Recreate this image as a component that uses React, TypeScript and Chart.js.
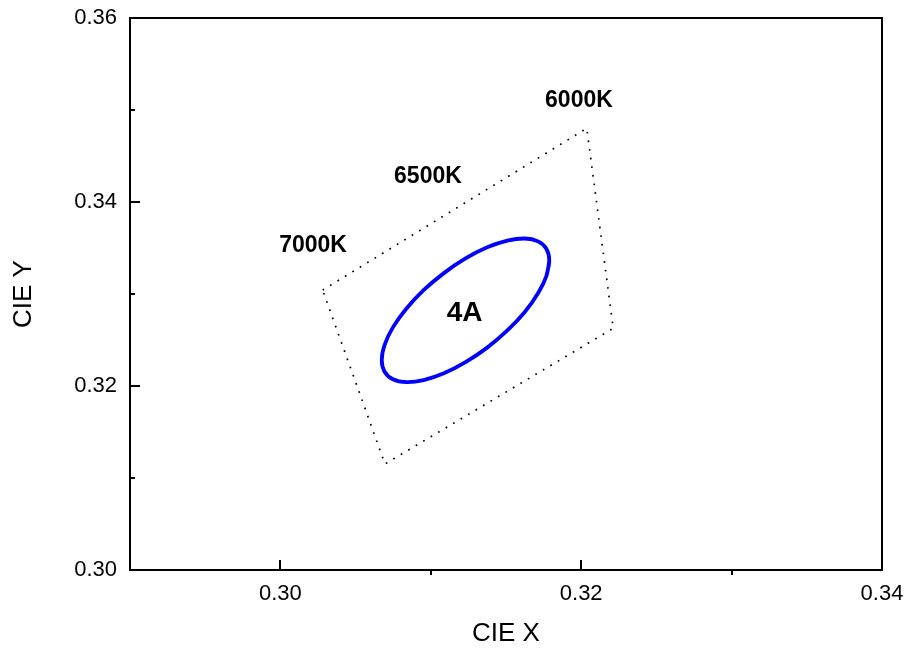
import React, { useEffect, useRef } from "react";
import { Chart, registerables } from "chart.js";

Chart.register(...registerables);

// Axis ticks
const xTicks = [0.30, 0.32, 0.34];
const xMinorTicks = [0.31, 0.33];
const yTicks = [0.30, 0.32, 0.34, 0.36];
const yMinorTicks = [0.31, 0.33, 0.35];

// Measured chromaticity ellipse (CIE x, CIE y), read around the outline
const ellipseX = [0.31788, 0.31769, 0.31713, 0.31625, 0.31509, 0.31375, 0.31231, 0.31087, 0.30952,
  0.30837, 0.30748, 0.30693, 0.30674, 0.30693, 0.30748, 0.30837, 0.30952, 0.31087, 0.31231, 0.31375,
  0.31509, 0.31625, 0.31713, 0.31769, 0.31788, 0.31769];
const ellipseY = [0.33362, 0.33198, 0.33008, 0.32805, 0.32604, 0.32417, 0.32259, 0.32138, 0.32064,
  0.32042, 0.32073, 0.32155, 0.32283, 0.32447, 0.32637, 0.32839, 0.33041, 0.33227, 0.33386, 0.33507,
  0.33580, 0.33603, 0.33572, 0.33490, 0.33362, 0.33198];

// CCT boundary quadrilateral
const boundaryX = [0.30281, 0.32037, 0.32213, 0.30695, 0.30281];
const boundaryY = [0.33043, 0.34801, 0.32627, 0.31152, 0.33043];

// Text annotations
const cctLabels = ["6000K", "6500K", "7000K"];
const cctLabelX = [0.31985, 0.30981, 0.30217];
const cctLabelY = [0.35103, 0.34277, 0.33522];
const sampleLabels = ["4A"];
const sampleLabelX = [0.31225];
const sampleLabelY = [0.32786];

const FONT = "'Liberation Sans', Arial, Helvetica, sans-serif";

const decorPlugin = {
  id: "decor",
  afterDatasetsDraw(chart: any) {
    const { ctx, scales } = chart;
    const xs = scales.x;
    const ys = scales.y;
    ctx.save();
    ctx.fillStyle = "#000";
    ctx.textAlign = "center";
    ctx.textBaseline = "middle";
    ctx.font = `bold 23px ${FONT}`;
    cctLabels.forEach((t, i) => {
      ctx.fillText(t, xs.getPixelForValue(cctLabelX[i]), ys.getPixelForValue(cctLabelY[i]));
    });
    ctx.font = `bold 28px ${FONT}`;
    sampleLabels.forEach((t, i) => {
      ctx.fillText(t, xs.getPixelForValue(sampleLabelX[i]), ys.getPixelForValue(sampleLabelY[i]));
    });
    ctx.restore();
  },
  afterDraw(chart: any) {
    const { ctx, chartArea, scales } = chart;
    const { left, right, top, bottom } = chartArea;
    ctx.save();
    ctx.strokeStyle = "#000";
    ctx.lineWidth = 2;
    ctx.strokeRect(left, top, right - left, bottom - top);
    ctx.beginPath();
    xTicks.forEach((v) => {
      const px = Math.round(scales.x.getPixelForValue(v));
      ctx.moveTo(px, bottom);
      ctx.lineTo(px, bottom - 10);
    });
    xMinorTicks.forEach((v) => {
      const px = Math.round(scales.x.getPixelForValue(v));
      ctx.moveTo(px, bottom);
      ctx.lineTo(px, bottom + 5);
    });
    yTicks.forEach((v) => {
      const py = Math.round(scales.y.getPixelForValue(v));
      ctx.moveTo(left, py);
      ctx.lineTo(left + 10, py);
    });
    yMinorTicks.forEach((v) => {
      const py = Math.round(scales.y.getPixelForValue(v));
      ctx.moveTo(left, py);
      ctx.lineTo(left + 5, py);
    });
    ctx.stroke();
    ctx.restore();
  },
};

export default function App() {
  const canvasRef = useRef<HTMLCanvasElement | null>(null);

  useEffect(() => {
    if (!canvasRef.current) return;
    const chart = new Chart(canvasRef.current, {
      type: "scatter",
      data: {
        datasets: [
          {
            label: "CCT boundary",
            data: boundaryX.map((x, i) => ({ x, y: boundaryY[i] })),
            showLine: true,
            borderColor: "#000",
            borderWidth: 1.7,
            borderDash: [1.7, 7],
            pointRadius: 0,
            tension: 0,
          },
          {
            label: "4A",
            data: ellipseX.map((x, i) => ({ x, y: ellipseY[i] })),
            showLine: true,
            borderColor: "#0000ff",
            borderWidth: 3.8,
            pointRadius: 0,
            tension: 0.4,
          },
        ],
      },
      options: {
        animation: false,
        responsive: false,
        layout: { padding: { left: 0, right: 24, top: 18, bottom: 0 } },
        plugins: { legend: { display: false }, tooltip: { enabled: false } },
        scales: {
          x: {
            type: "linear",
            min: 0.29,
            max: 0.34,
            grid: { display: false, drawTicks: false },
            border: { display: false },
            afterBuildTicks: (s: any) => {
              s.ticks = xTicks.map((v) => ({ value: v }));
            },
            afterFit: (s: any) => {
              s.height = 79;
              s.paddingLeft = 0;
              s.paddingRight = 0;
            },
            ticks: {
              color: "#000",
              font: { family: FONT, size: 22 },
              padding: 11,
              maxRotation: 0,
              callback: (v: any) => Number(v).toFixed(2),
            },
            title: {
              display: true,
              text: "CIE X",
              color: "#000",
              font: { family: FONT, size: 26 },
              padding: { top: 0, bottom: 0 },
            },
          },
          y: {
            type: "linear",
            min: 0.30,
            max: 0.36,
            grid: { display: false, drawTicks: false },
            border: { display: false },
            afterBuildTicks: (s: any) => {
              s.ticks = yTicks.map((v) => ({ value: v }));
            },
            afterFit: (s: any) => {
              s.width = 130;
              s.paddingTop = 0;
              s.paddingBottom = 0;
            },
            ticks: {
              color: "#000",
              font: { family: FONT, size: 22 },
              padding: 13,
              callback: (v: any) => Number(v).toFixed(2),
            },
            title: {
              display: true,
              text: "CIE Y",
              color: "#000",
              font: { family: FONT, size: 26 },
              padding: { top: 8, bottom: 0 },
            },
          },
        },
      },
      plugins: [decorPlugin],
    } as any);
    return () => chart.destroy();
  }, []);

  return (
    <div style={{ position: "fixed", left: 0, top: 0, width: 906, height: 649, background: "#fff" }}>
      <canvas ref={canvasRef} width={906} height={649} style={{ display: "block" }} />
    </div>
  );
}
